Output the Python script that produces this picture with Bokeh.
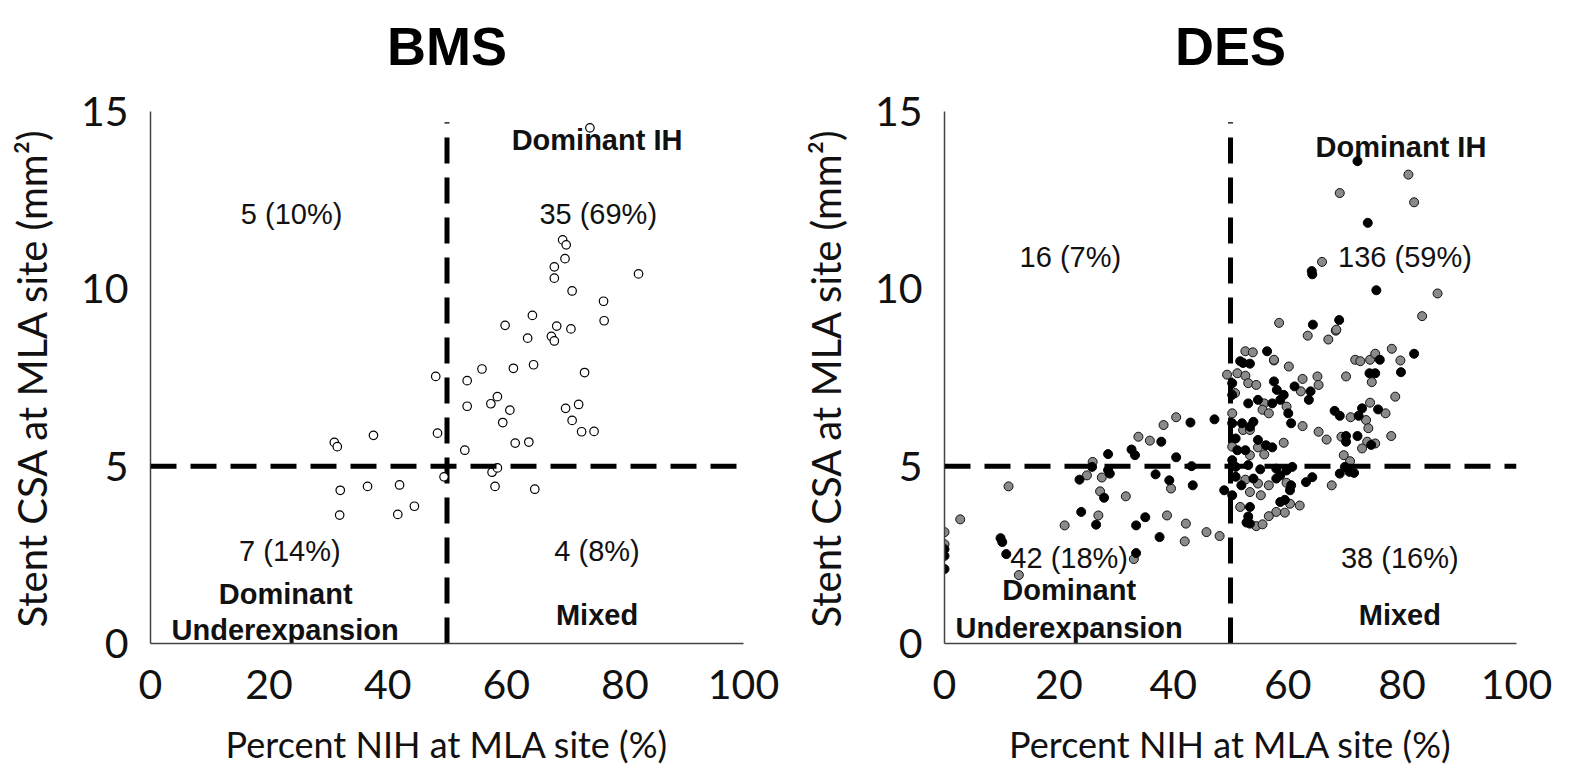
from bokeh.plotting import figure
from bokeh.layouts import row, column
from bokeh.models import Range1d, Span, FixedTicker
from bokeh.core.properties import value
from bokeh.embed import file_html
from bokeh.resources import INLINE

# ---------------- data ----------------
x_ticks = [0, 20, 40, 60, 80, 100]
y_ticks = [0, 5, 10, 15]
nih_cut = 50
csa_cut = 5

bms_nih = [74.1, 69.5, 70.1, 69.9, 68.1, 68.1, 82.3, 71.1, 76.4, 76.5, 64.4, 59.8, 68.5,
           70.9, 63.6, 67.6, 68.1, 55.9, 61.2, 64.6, 73.2, 48.1, 53.4, 53.4, 57.4, 58.5,
           60.6, 59.4, 70.0, 72.2, 71.1, 72.7, 74.8, 61.5, 63.8, 48.4, 53.0, 31.0, 31.5,
           37.6, 57.6, 58.5, 49.5, 58.1, 64.8, 32.0, 36.6, 42.0, 44.5, 31.9, 41.7]
bms_csa = [14.54, 11.38, 11.24, 10.85, 10.62, 10.30, 10.42, 9.94, 9.65, 9.10, 9.25, 8.97, 8.95,
           8.87, 8.61, 8.66, 8.53, 7.74, 7.76, 7.86, 7.64, 7.53, 7.41, 6.69, 6.76, 6.96,
           6.58, 6.23, 6.63, 6.74, 6.29, 5.97, 5.98, 5.65, 5.68, 5.93, 5.45, 5.67, 5.55,
           5.87, 4.83, 4.95, 4.70, 4.43, 4.35, 4.32, 4.43, 4.47, 3.87, 3.62, 3.64]

des_gray_nih = [0, 0, 2.75, 11.2, 13.0, 21.0, 24.9, 25.9, 27.5, 27.2, 26.9, 31.7, 33.9, 35.9,
                38.3, 40.5, 39.6, 38.9, 42.2, 42.0, 45.8, 48.1, 33.1,
                57.6, 60.2, 49.4, 51.2, 52.6, 53.1, 54.5, 62.6, 65.2, 65.4, 62.3, 50.8, 55.9,
                55.6, 56.7, 59.8, 50.3, 52.2, 53.4, 62.6, 65.4, 59.3, 54.8, 55.9, 50.3, 53.4,
                59.8, 52.6, 54.8, 56.7, 53.4, 55.3, 51.7, 60.4, 62.1, 58.0, 59.5, 56.7, 54.5, 55.6,
                68.4, 67.1, 78.2, 71.8, 72.7, 74.4, 75.3, 79.7, 74.7, 70.2, 78.8, 74.4, 77.1,
                71.0, 73.7, 74.1, 66.8, 69.4, 78.1, 73.9, 73.0, 75.3, 69.8, 70.9, 67.7,
                81.1, 69.1, 82.1, 66.0, 86.2, 83.5, 58.5, 68.5, 63.5, 52.6, 53.9, 57.6]
des_gray_csa = [3.14, 2.80, 3.50, 4.43, 1.93, 3.33, 4.74, 5.12, 4.68, 4.29, 3.61, 4.15, 5.83, 5.72,
                6.16, 6.38, 4.37, 3.61, 3.38, 2.88, 3.14, 3.03, 2.38,
                7.98, 7.81, 7.58, 7.62, 7.55, 7.34, 7.29, 7.46, 7.53, 7.29, 7.11, 7.06, 6.77,
                6.59, 6.49, 6.68, 6.49, 6.02, 6.02, 6.13, 5.97, 5.66, 5.53, 5.33, 5.55, 5.31,
                4.53, 4.62, 4.51, 4.46, 4.27, 4.18, 3.85, 3.94, 3.89, 3.71, 3.69, 3.59, 3.31, 3.36,
                8.82, 8.57, 8.31, 8.00, 7.96, 8.00, 8.17, 7.98, 7.37, 7.53, 6.96, 6.79, 6.49,
                6.38, 6.30, 6.07, 5.75, 5.83, 5.85, 5.69, 5.50, 5.64, 5.31, 5.14, 4.46,
                13.22, 12.70, 12.44, 10.76, 9.87, 9.23, 9.04, 8.85, 8.68, 8.24, 8.21, 8.00]

des_black_nih = [0, 0, 0, 9.8, 10.1, 10.8, 23.6, 25.8, 28.6, 28.6, 28.9, 27.9, 23.9, 26.5, 32.7,
                 33.3, 37.9, 43.0, 47.2, 40.5, 36.9, 39.3, 43.2, 43.4, 35.1, 33.5, 37.6, 48.9, 33.5,
                 52.2, 53.4, 50.3, 57.6, 58.1, 61.2, 64.0, 63.7, 50.3, 53.1, 54.8, 57.3, 58.7,
                 59.3, 60.1, 60.6, 50.3, 52.0, 53.4, 54.0, 54.8, 56.2, 57.3, 50.9, 51.2, 52.6,
                 50.3, 50.9, 53.1, 55.2, 58.0, 59.8, 60.8, 58.7, 58.0, 60.6, 60.4, 63.2, 64.3,
                 50.9, 54.0, 51.9, 50.3, 53.4, 58.7, 59.5, 53.1, 53.4, 52.8,
                 82.1, 76.1, 79.8, 74.3, 75.3, 73.0, 75.8, 68.2, 69.1, 72.4, 70.2, 72.2, 70.2,
                 74.6, 70.0, 69.1, 70.8, 71.6,
                 72.2, 74.0, 64.2, 64.3, 75.5, 64.4, 69.0, 56.4, 51.7]
des_black_csa = [2.66, 2.47, 2.10, 2.97, 2.86, 2.52, 4.62, 4.98, 5.34, 4.89, 4.79, 4.11, 3.71, 3.35, 5.47,
                 5.31, 5.69, 6.23, 6.32, 5.25, 4.77, 4.60, 5.00, 4.46, 3.56, 3.33, 3.00, 4.32, 2.55,
                 7.91, 7.89, 7.34, 7.39, 7.15, 7.25, 7.11, 6.87, 7.01, 6.77, 6.87, 6.77, 6.87,
                 7.01, 6.49, 6.21, 6.21, 6.21, 6.11, 6.25, 5.74, 5.59, 5.53, 5.78, 5.45, 5.45,
                 5.17, 4.98, 5.03, 4.91, 4.93, 4.88, 4.98, 4.74, 4.65, 4.46, 4.32, 4.55, 4.69,
                 4.70, 4.65, 4.46, 4.18, 3.85, 3.99, 4.05, 3.58, 3.38, 3.41,
                 8.17, 8.00, 7.65, 7.62, 7.62, 6.63, 6.60, 6.56, 6.42, 6.42, 5.85, 5.85, 5.69,
                 5.60, 4.98, 4.79, 4.84, 4.81,
                 13.60, 11.86, 10.50, 10.41, 9.96, 8.99, 9.12, 8.24, 7.96]

bms_counts = ["5 (10%)", "35 (69%)", "7 (14%)", "4 (8%)"]
des_counts = ["16 (7%)", "136 (59%)", "42 (18%)", "38 (16%)"]
group_names = ["Dominant IH", "Dominant", "Underexpansion", "Mixed"]

X_TITLE = "Percent NIH at MLA site (%)"
Y_TITLE = "Stent CSA at MLA site (mm²)"

TICK_FONT = "Lato"
TXT_FONT = "Liberation Sans"

Y_MAX = 15
DASH_TOP = 14.7     # top of the vertical cut-off line
TITLE_H = 90        # height of the strip holding the panel titles


def make_title(title, width, bl, br):
    t = figure(width=width, height=TITLE_H, output_backend="svg", toolbar_location=None,
               x_range=Range1d(0, 100), y_range=Range1d(0, 1),
               x_axis_type=None, y_axis_type=None,
               min_border_left=bl, min_border_right=br, min_border_top=0,
               min_border_bottom=0)
    t.outline_line_color = None
    t.background_fill_color = "white"
    t.border_fill_color = "white"
    t.text(x=[50], y=[0.5], text=[title], text_font=value(TXT_FONT), text_font_size="54px",
           text_font_style="bold", text_align="center", text_baseline="middle",
           text_color="black")
    return t


def make_panel(width, bl, br, count_pos, count_txt, group_pos):
    p = figure(width=width, height=776 - TITLE_H, output_backend="svg", toolbar_location=None,
               x_range=Range1d(0, 100), y_range=Range1d(0, Y_MAX),
               min_border_left=bl, min_border_right=br, min_border_top=111 - TITLE_H,
               min_border_bottom=133)
    p.outline_line_color = None
    p.xgrid.visible = False
    p.ygrid.visible = False
    p.background_fill_color = "white"
    p.border_fill_color = "white"

    for ax in (p.xaxis[0], p.yaxis[0]):
        ax.axis_line_color = "#444444"
        ax.axis_line_width = 1.5
        ax.major_tick_line_color = None
        ax.minor_tick_line_color = None
        ax.major_label_text_font = TICK_FONT
        ax.major_label_text_font_size = "41px"
        ax.major_label_text_color = "#111111"
        ax.axis_label_text_font = TICK_FONT
        ax.axis_label_text_font_style = "normal"
        ax.axis_label_text_color = "#111111"
    p.xaxis.ticker = FixedTicker(ticks=x_ticks)
    p.yaxis.ticker = FixedTicker(ticks=y_ticks)
    p.xaxis.axis_label = X_TITLE
    p.yaxis.axis_label = Y_TITLE
    p.xaxis.axis_label_text_font_size = "36px"
    p.yaxis.axis_label_text_font_size = "40px"
    p.xaxis.major_label_standoff = 20
    p.yaxis.major_label_standoff = 16
    p.xaxis.axis_label_standoff = 20
    p.yaxis.axis_label_standoff = 22

    p.add_layout(Span(location=csa_cut, dimension="width", line_color="black",
                      line_width=5, line_dash="26 14"))
    p.segment(x0=[nih_cut], y0=[0], x1=[nih_cut], y1=[DASH_TOP], line_color="black",
              line_width=5, line_dash="26 14")

    cx, cy = count_pos
    p.text(x=cx, y=cy, text=count_txt, text_font=value(TXT_FONT), text_font_size="29px",
           text_align="center", text_baseline="middle", text_color="#111111")
    gx, gy = group_pos
    p.text(x=gx, y=gy, text=group_names, text_font=value(TXT_FONT), text_font_size="29px",
           text_font_style="bold", text_align="center", text_baseline="middle",
           text_color="#111111")
    return p


# BMS panel
t1 = make_title("BMS", 785, 150, 42)
p1 = make_panel(785, 150, 42,
                ([23.8, 75.5, 23.5, 75.3], [12.1, 12.1, 2.6, 2.6]), bms_counts,
                ([75.3, 22.8, 22.7, 75.3], [14.2, 1.4, 0.37, 0.8]))
p1.scatter(bms_nih, bms_csa, size=8.5, marker="circle", fill_color="white",
           line_color="black", line_width=1.2)

# DES panel
t2 = make_title("DES", 771, 159, 40)
p2 = make_panel(771, 159, 40,
                ([22.0, 80.5, 21.8, 79.6], [10.9, 10.9, 2.4, 2.4]), des_counts,
                ([79.8, 21.8, 21.8, 79.6], [14.0, 1.5, 0.45, 0.8]))
p2.scatter(des_gray_nih, des_gray_csa, size=9, marker="circle", fill_color="#8a8a8a",
           line_color="#111111", line_width=1)
p2.scatter(des_black_nih, des_black_csa, size=9, marker="circle", fill_color="black",
           line_color="black", line_width=1)

layout = column(row(t1, t2), row(p1, p2))
open("out.html", "w").write(file_html(layout, INLINE))
